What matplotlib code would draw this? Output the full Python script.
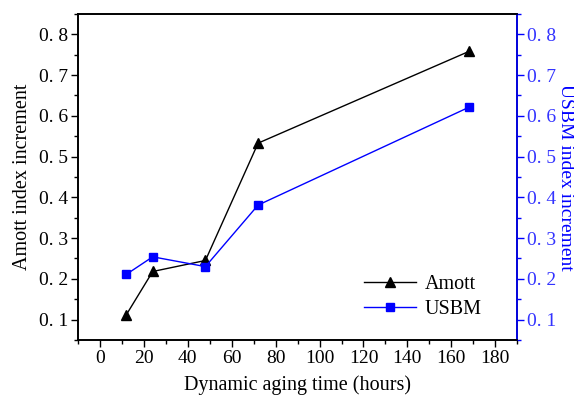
import matplotlib
matplotlib.use("Agg")
import matplotlib.pyplot as plt
from matplotlib.ticker import MultipleLocator, FuncFormatter

hours = [12, 24, 48, 72, 168]
amott = [0.112, 0.218, 0.245, 0.533, 0.758]
usbm = [0.211, 0.254, 0.230, 0.381, 0.621]

plt.rcParams['font.family'] = ['Liberation Serif', 'DejaVu Serif']
plt.rcParams['font.size'] = 14.5

fig = plt.figure(figsize=(5.74, 3.99), dpi=100)
ax = fig.add_axes([0.136, 0.148, 0.765, 0.817])
ax2 = ax.twinx()

l1, = ax.plot(hours, amott, color='black', lw=1.0, marker='^', ms=7, label='Amott')
l2, = ax2.plot(hours, usbm, color='#0000ff', lw=1.0, marker='s', ms=5.5, label='USBM')

ax.set_xlim(-10, 190)
ax.set_ylim(0.05, 0.85)
ax2.set_ylim(0.05, 0.85)

fmt = FuncFormatter(lambda v, p: ('%.1f' % v).replace('.', '. '))
for a in (ax, ax2):
    a.yaxis.set_major_locator(MultipleLocator(0.1))
    a.yaxis.set_minor_locator(MultipleLocator(0.05))
    a.yaxis.set_major_formatter(fmt)
ax.xaxis.set_major_locator(MultipleLocator(20))
ax.xaxis.set_minor_locator(MultipleLocator(10))

ax.tick_params(which='major', direction='out', length=5, width=1, labelsize=14, pad=2)
ax.tick_params(which='minor', direction='out', length=3, width=1)
ax2.tick_params(which='major', direction='out', length=5, width=1, colors='#0000ff',
                labelcolor='#3333ff', labelsize=14, pad=2)
ax2.tick_params(which='minor', direction='out', length=3, width=1, colors='#0000ff')
ax2.spines['right'].set_color('#0000ff')
for s in ax.spines.values():
    s.set_linewidth(1.2)
for s in ax2.spines.values():
    s.set_linewidth(1.2)

ax.set_xlabel('Dynamic aging time (hours)', labelpad=6)
ax.set_ylabel('Amott index increment', labelpad=5)
ax2.set_ylabel('USBM index increment', color='#0000ff', rotation=270,
               fontsize=14, va='center', ha='center')
ax2.yaxis.set_label_coords(1.11, 0.5)

ax.legend([l1, l2], ['Amott', 'USBM'], loc='lower right', frameon=False,
          bbox_to_anchor=(0.955, 0.015), handlelength=2.6, handletextpad=0.4,
          borderpad=0.3, labelspacing=0.3)

fig.savefig('out.png', dpi=100)
